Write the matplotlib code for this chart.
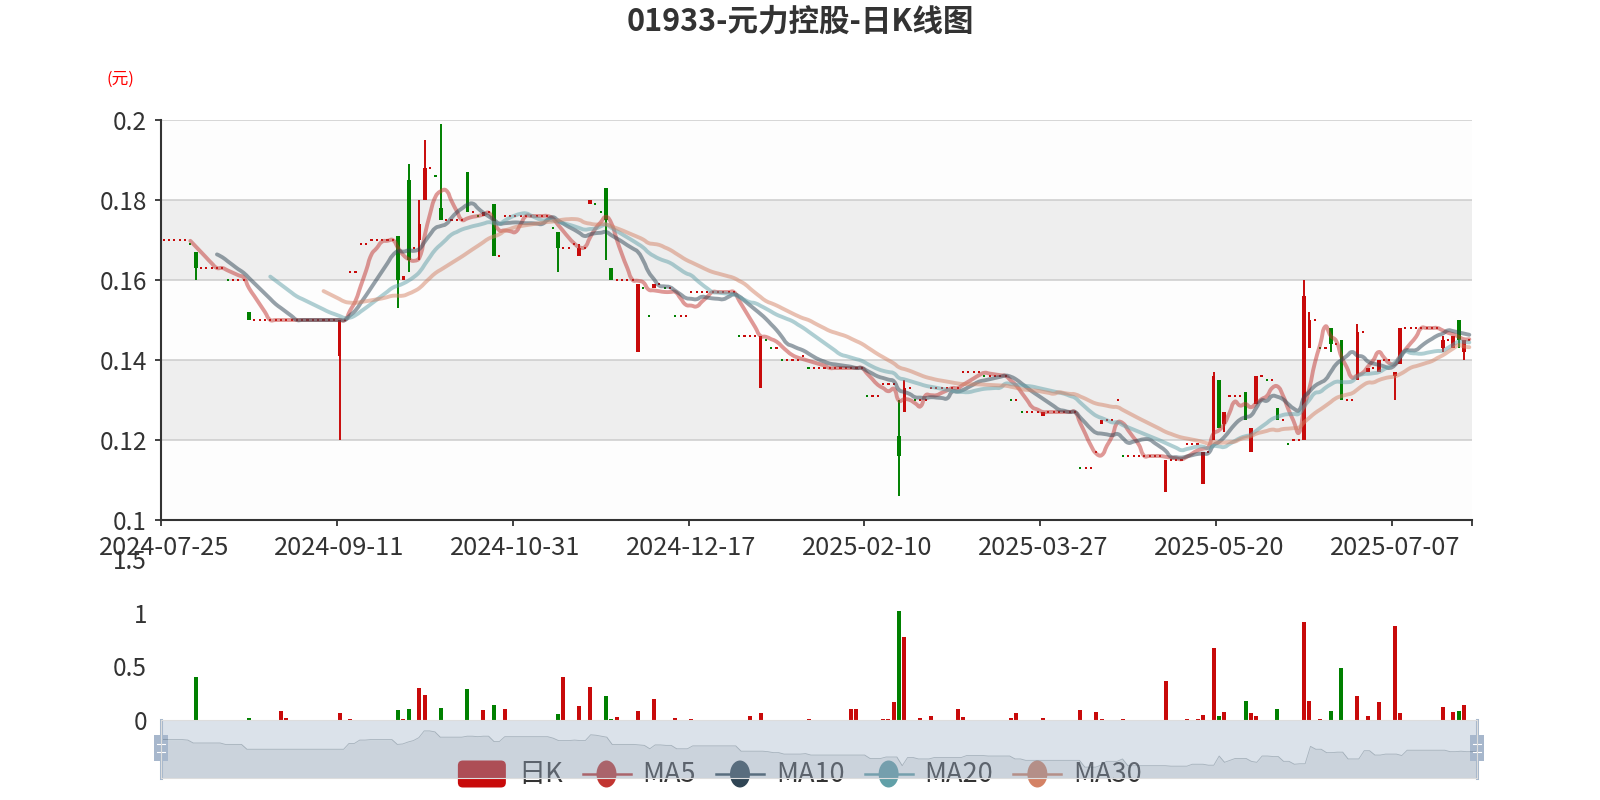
import numpy as np
import pandas as pd
import matplotlib
matplotlib.use("Agg")
import matplotlib.pyplot as plt
from matplotlib.path import Path
from matplotlib.patches import PathPatch, FancyBboxPatch, Ellipse, Rectangle
from matplotlib.lines import Line2D
from matplotlib.ticker import FixedLocator, NullFormatter

plt.rcParams["font.family"] = ["Noto Sans CJK SC", "DejaVu Sans"]

TITLE = "01933-元力控股-日K线图"
Y_NAME = "(元)"
tick_labels = ["2024-07-25", "2024-09-11", "2024-10-31", "2024-12-17",
               "2025-02-10", "2025-03-27", "2025-05-20", "2025-07-07"]
LABEL_STEP = 33   # one date label every 33 trading days

# daily prices, one value per trading day (index 0 = 2024-07-25)
opens = [
    0.170, 0.170, 0.170, 0.170, 0.170, 0.169, 0.167, 0.163, 0.163, 0.163,
    0.163, 0.163, 0.160, 0.160, 0.160, 0.160, 0.152, 0.150, 0.150, 0.150,
    0.150, 0.150, 0.150, 0.150, 0.150, 0.150, 0.150, 0.150, 0.150, 0.150,
    0.150, 0.150, 0.150, 0.141, 0.150, 0.162, 0.162, 0.169, 0.169, 0.170,
    0.170, 0.170, 0.170, 0.170, 0.171, 0.160, 0.185, 0.168, 0.170, 0.180,
    0.188, 0.186, 0.178, 0.175, 0.175, 0.175, 0.175, 0.187, 0.177, 0.176,
    0.176, 0.177, 0.179, 0.166, 0.176, 0.176, 0.176, 0.176, 0.176, 0.176,
    0.176, 0.176, 0.176, 0.173, 0.172, 0.168, 0.168, 0.169, 0.166, 0.168,
    0.179, 0.179, 0.177, 0.183, 0.163, 0.160, 0.160, 0.160, 0.160, 0.142,
    0.158, 0.151, 0.158, 0.159, 0.158, 0.158, 0.151, 0.151, 0.151, 0.157,
    0.157, 0.157, 0.157, 0.157, 0.157, 0.157, 0.157, 0.157, 0.146, 0.146,
    0.146, 0.146, 0.133, 0.145, 0.143, 0.143, 0.140, 0.140, 0.140, 0.140,
    0.141, 0.138, 0.138, 0.138, 0.138, 0.138, 0.138, 0.138, 0.138, 0.138,
    0.138, 0.138, 0.131, 0.131, 0.131, 0.134, 0.134, 0.134, 0.121, 0.127,
    0.133, 0.130, 0.130, 0.130, 0.133, 0.133, 0.133, 0.133, 0.133, 0.133,
    0.137, 0.137, 0.137, 0.137, 0.136, 0.136, 0.136, 0.136, 0.136, 0.130,
    0.130, 0.127, 0.127, 0.127, 0.127, 0.126, 0.127, 0.127, 0.127, 0.127,
    0.127, 0.127, 0.113, 0.113, 0.113, 0.117, 0.124, 0.125, 0.125, 0.130,
    0.116, 0.116, 0.116, 0.116, 0.116, 0.116, 0.116, 0.116, 0.107, 0.115,
    0.115, 0.115, 0.119, 0.119, 0.119, 0.109, 0.117, 0.120, 0.135, 0.124,
    0.131, 0.131, 0.131, 0.132, 0.117, 0.129, 0.136, 0.135, 0.135, 0.128,
    0.125, 0.119, 0.120, 0.120, 0.120, 0.143, 0.150, 0.143, 0.143, 0.148,
    0.144, 0.145, 0.130, 0.130, 0.135, 0.147, 0.137, 0.138, 0.137, 0.140,
    0.140, 0.136, 0.139, 0.148, 0.148, 0.148, 0.148, 0.148, 0.148, 0.148,
    0.143, 0.145, 0.143, 0.150, 0.142, 0.145,
]
highs = [
    0.170, 0.170, 0.170, 0.170, 0.170, 0.169, 0.167, 0.163, 0.163, 0.163,
    0.163, 0.163, 0.160, 0.160, 0.160, 0.160, 0.152, 0.150, 0.150, 0.150,
    0.150, 0.150, 0.150, 0.150, 0.150, 0.150, 0.150, 0.150, 0.150, 0.150,
    0.150, 0.150, 0.150, 0.150, 0.150, 0.162, 0.162, 0.169, 0.169, 0.170,
    0.170, 0.170, 0.170, 0.170, 0.171, 0.161, 0.189, 0.168, 0.180, 0.195,
    0.188, 0.186, 0.199, 0.175, 0.175, 0.175, 0.175, 0.187, 0.177, 0.176,
    0.177, 0.177, 0.179, 0.166, 0.176, 0.176, 0.176, 0.176, 0.176, 0.176,
    0.176, 0.176, 0.176, 0.173, 0.172, 0.168, 0.168, 0.169, 0.169, 0.168,
    0.180, 0.179, 0.177, 0.183, 0.163, 0.160, 0.160, 0.160, 0.160, 0.159,
    0.158, 0.151, 0.159, 0.159, 0.158, 0.158, 0.151, 0.151, 0.151, 0.157,
    0.157, 0.157, 0.157, 0.157, 0.157, 0.157, 0.157, 0.157, 0.146, 0.146,
    0.146, 0.146, 0.146, 0.145, 0.143, 0.143, 0.140, 0.140, 0.140, 0.140,
    0.141, 0.138, 0.138, 0.138, 0.138, 0.138, 0.138, 0.138, 0.138, 0.138,
    0.138, 0.138, 0.131, 0.131, 0.131, 0.134, 0.134, 0.134, 0.130, 0.135,
    0.133, 0.130, 0.130, 0.130, 0.133, 0.133, 0.133, 0.133, 0.133, 0.133,
    0.137, 0.137, 0.137, 0.137, 0.136, 0.136, 0.136, 0.136, 0.136, 0.130,
    0.130, 0.127, 0.127, 0.127, 0.127, 0.127, 0.127, 0.127, 0.127, 0.127,
    0.127, 0.127, 0.113, 0.113, 0.113, 0.117, 0.125, 0.125, 0.125, 0.130,
    0.116, 0.116, 0.116, 0.116, 0.116, 0.116, 0.116, 0.116, 0.115, 0.115,
    0.115, 0.115, 0.119, 0.119, 0.119, 0.117, 0.117, 0.137, 0.135, 0.127,
    0.131, 0.131, 0.131, 0.132, 0.123, 0.136, 0.136, 0.135, 0.135, 0.128,
    0.125, 0.119, 0.120, 0.120, 0.160, 0.152, 0.150, 0.143, 0.143, 0.148,
    0.144, 0.145, 0.130, 0.130, 0.149, 0.147, 0.138, 0.138, 0.140, 0.140,
    0.140, 0.137, 0.148, 0.148, 0.148, 0.148, 0.148, 0.148, 0.148, 0.148,
    0.146, 0.145, 0.146, 0.150, 0.145, 0.145,
]
lows = [
    0.170, 0.170, 0.170, 0.170, 0.170, 0.169, 0.160, 0.163, 0.163, 0.163,
    0.163, 0.163, 0.160, 0.160, 0.160, 0.160, 0.150, 0.150, 0.150, 0.150,
    0.150, 0.150, 0.150, 0.150, 0.150, 0.150, 0.150, 0.150, 0.150, 0.150,
    0.150, 0.150, 0.150, 0.120, 0.150, 0.162, 0.162, 0.169, 0.169, 0.170,
    0.170, 0.170, 0.170, 0.170, 0.153, 0.160, 0.162, 0.168, 0.165, 0.180,
    0.188, 0.186, 0.175, 0.175, 0.175, 0.175, 0.175, 0.177, 0.177, 0.176,
    0.176, 0.177, 0.166, 0.166, 0.176, 0.176, 0.176, 0.176, 0.176, 0.176,
    0.176, 0.176, 0.176, 0.173, 0.162, 0.168, 0.168, 0.169, 0.166, 0.168,
    0.179, 0.179, 0.177, 0.165, 0.160, 0.160, 0.160, 0.160, 0.160, 0.142,
    0.158, 0.151, 0.158, 0.159, 0.158, 0.158, 0.151, 0.151, 0.151, 0.157,
    0.157, 0.157, 0.157, 0.157, 0.157, 0.157, 0.157, 0.157, 0.146, 0.146,
    0.146, 0.146, 0.133, 0.145, 0.143, 0.143, 0.140, 0.140, 0.140, 0.140,
    0.141, 0.138, 0.138, 0.138, 0.138, 0.138, 0.138, 0.138, 0.138, 0.138,
    0.138, 0.138, 0.131, 0.131, 0.131, 0.134, 0.134, 0.134, 0.106, 0.127,
    0.133, 0.130, 0.130, 0.130, 0.133, 0.133, 0.133, 0.133, 0.133, 0.133,
    0.137, 0.137, 0.137, 0.137, 0.136, 0.136, 0.136, 0.136, 0.136, 0.130,
    0.130, 0.127, 0.127, 0.127, 0.127, 0.126, 0.127, 0.127, 0.127, 0.127,
    0.127, 0.127, 0.113, 0.113, 0.113, 0.117, 0.124, 0.125, 0.125, 0.130,
    0.116, 0.116, 0.116, 0.116, 0.116, 0.116, 0.116, 0.116, 0.107, 0.115,
    0.115, 0.115, 0.119, 0.119, 0.119, 0.109, 0.117, 0.120, 0.123, 0.122,
    0.131, 0.131, 0.131, 0.125, 0.117, 0.129, 0.136, 0.135, 0.135, 0.125,
    0.125, 0.119, 0.120, 0.120, 0.120, 0.143, 0.150, 0.143, 0.143, 0.142,
    0.144, 0.130, 0.130, 0.130, 0.135, 0.147, 0.137, 0.138, 0.137, 0.140,
    0.140, 0.130, 0.139, 0.148, 0.148, 0.148, 0.148, 0.148, 0.148, 0.148,
    0.142, 0.145, 0.143, 0.143, 0.140, 0.145,
]
closes = [
    0.170, 0.170, 0.170, 0.170, 0.170, 0.169, 0.163, 0.163, 0.163, 0.163,
    0.163, 0.163, 0.160, 0.160, 0.160, 0.160, 0.150, 0.150, 0.150, 0.150,
    0.150, 0.150, 0.150, 0.150, 0.150, 0.150, 0.150, 0.150, 0.150, 0.150,
    0.150, 0.150, 0.150, 0.150, 0.150, 0.162, 0.162, 0.169, 0.169, 0.170,
    0.170, 0.170, 0.170, 0.170, 0.160, 0.161, 0.165, 0.168, 0.174, 0.188,
    0.188, 0.186, 0.175, 0.175, 0.175, 0.175, 0.175, 0.177, 0.177, 0.176,
    0.177, 0.177, 0.166, 0.166, 0.176, 0.176, 0.176, 0.176, 0.176, 0.176,
    0.176, 0.176, 0.176, 0.173, 0.168, 0.168, 0.168, 0.169, 0.168, 0.168,
    0.180, 0.179, 0.177, 0.175, 0.160, 0.160, 0.160, 0.160, 0.160, 0.159,
    0.158, 0.151, 0.159, 0.159, 0.158, 0.158, 0.151, 0.151, 0.151, 0.157,
    0.157, 0.157, 0.157, 0.157, 0.157, 0.157, 0.157, 0.157, 0.146, 0.146,
    0.146, 0.146, 0.146, 0.145, 0.143, 0.143, 0.140, 0.140, 0.140, 0.140,
    0.141, 0.138, 0.138, 0.138, 0.138, 0.138, 0.138, 0.138, 0.138, 0.138,
    0.138, 0.138, 0.131, 0.131, 0.131, 0.134, 0.134, 0.134, 0.116, 0.133,
    0.133, 0.130, 0.130, 0.130, 0.133, 0.133, 0.133, 0.133, 0.133, 0.133,
    0.137, 0.137, 0.137, 0.137, 0.136, 0.136, 0.136, 0.136, 0.136, 0.130,
    0.130, 0.127, 0.127, 0.127, 0.127, 0.127, 0.127, 0.127, 0.127, 0.127,
    0.127, 0.127, 0.113, 0.113, 0.113, 0.117, 0.125, 0.125, 0.125, 0.130,
    0.116, 0.116, 0.116, 0.116, 0.116, 0.116, 0.116, 0.116, 0.115, 0.115,
    0.115, 0.115, 0.119, 0.119, 0.119, 0.117, 0.117, 0.136, 0.123, 0.127,
    0.131, 0.131, 0.131, 0.125, 0.123, 0.136, 0.136, 0.135, 0.135, 0.125,
    0.125, 0.119, 0.120, 0.120, 0.156, 0.150, 0.150, 0.143, 0.143, 0.144,
    0.144, 0.130, 0.130, 0.130, 0.147, 0.147, 0.138, 0.138, 0.140, 0.140,
    0.140, 0.137, 0.148, 0.148, 0.148, 0.148, 0.148, 0.148, 0.148, 0.148,
    0.145, 0.145, 0.146, 0.145, 0.145, 0.145,
]
volumes = [
    0, 0, 0, 0, 0, 0, 0.40, 0, 0, 0,
    0, 0, 0, 0, 0, 0, 0.022, 0, 0, 0,
    0, 0, 0.081, 0.022, 0, 0, 0, 0, 0, 0,
    0, 0, 0, 0.0625, 0, 0.01, 0, 0, 0, 0,
    0, 0, 0, 0, 0.094, 0.01, 0.103, 0, 0.30, 0.23,
    0, 0, 0.11, 0, 0, 0, 0, 0.29, 0, 0,
    0.094, 0, 0.14, 0, 0.103, 0, 0, 0, 0, 0,
    0, 0, 0, 0, 0.053, 0.40, 0, 0, 0.13, 0,
    0.31, 0, 0, 0.22, 0.01, 0.028, 0, 0, 0, 0.081,
    0, 0, 0.20, 0, 0, 0, 0.019, 0, 0, 0.01,
    0, 0, 0, 0, 0, 0, 0, 0, 0, 0,
    0.04, 0, 0.0625, 0, 0, 0, 0, 0, 0, 0,
    0, 0.01, 0, 0, 0, 0, 0, 0, 0, 0.103,
    0.103, 0, 0, 0, 0, 0.01, 0.01, 0.17, 1.02, 0.77,
    0, 0, 0.019, 0, 0.04, 0, 0, 0, 0, 0.103,
    0.028, 0, 0, 0, 0, 0, 0, 0, 0, 0.019,
    0.0625, 0, 0, 0, 0, 0.019, 0, 0, 0, 0,
    0, 0, 0.094, 0, 0, 0.072, 0.01, 0, 0, 0,
    0.01, 0, 0, 0, 0, 0, 0, 0, 0.36, 0,
    0, 0, 0.01, 0, 0.01, 0.05, 0, 0.67, 0.04, 0.072,
    0, 0, 0, 0.18, 0.0625, 0.04, 0, 0, 0, 0.103,
    0, 0, 0, 0, 0.91, 0.18, 0, 0.01, 0, 0.081,
    0, 0.48, 0, 0, 0.22, 0, 0.04, 0, 0.17, 0,
    0, 0.88, 0.0625, 0, 0, 0, 0, 0, 0, 0,
    0.12, 0, 0.072, 0.081, 0.14, 0,
]

ma_periods = [5, 10, 20, 30]
ma_names = ["MA5", "MA10", "MA20", "MA30"]
ma_colors = ["#c23531", "#2f4554", "#61a0a8", "#d48265"]
UP_COLOR = "#c80a0a"
DOWN_COLOR = "#008000"
TEXT_COLOR = "#333333"

W, H = 1600, 800
PLOT_L, PLOT_R, PLOT_T, PLOT_B = 161, 1472, 120, 520
VOL_T, VOL_B = 559, 720
ZOOM_L, ZOOM_R, ZOOM_T, ZOOM_B = 161, 1477, 720, 778


def smooth_path(xs, ys, sx, sy, smooth=0.5):
    """Bezier path through the points, same control-point rule as echarts smooth lines."""
    pts = np.column_stack([xs * sx, ys * sy])
    n = len(pts)
    cps = []
    for i in range(n):
        if i == 0 or i == n - 1:
            cps.append((pts[i], pts[i]))
            continue
        v = (pts[i + 1] - pts[i - 1]) * smooth
        d0 = np.hypot(*(pts[i] - pts[i - 1]))
        d1 = np.hypot(*(pts[i] - pts[i + 1]))
        s = d0 + d1
        if s:
            d0, d1 = d0 / s, d1 / s
        cps.append((pts[i] - v * d0, pts[i] + v * d1))
    verts = [pts[0]]
    codes = [Path.MOVETO]
    for i in range(n - 1):
        verts += [cps[i][1], cps[i + 1][0], pts[i + 1]]
        codes += [Path.CURVE4] * 3
    verts = np.array(verts) / np.array([sx, sy])
    return Path(verts, codes)


o = np.array(opens)
h = np.array(highs)
l = np.array(lows)
c = np.array(closes)
v = np.array(volumes)
n = len(c)
x = np.arange(n)

# echarts sign rule: body direction, or previous close when open == close
prev_close = np.r_[c[0], c[:-1]]
rising = np.where(c > o, True, np.where(c < o, False, c >= prev_close))
candle_colors = np.where(rising, UP_COLOR, DOWN_COLOR)
vol_colors = np.where(c >= o, UP_COLOR, DOWN_COLOR)

fig = plt.figure(figsize=(16, 8), dpi=100)

# ---- price panel ----
ax = fig.add_axes([PLOT_L / W, 1 - PLOT_B / H, (PLOT_R - PLOT_L) / W, (PLOT_B - PLOT_T) / H])
ax.set_xlim(-0.5, n - 0.5)
ax.set_ylim(0.1, 0.2)
yt = np.round(np.arange(0.1, 0.2001, 0.02), 2)
band_colors = ["#fdfdfd", "#eeeeee"]
for k in range(len(yt) - 1):
    ax.axhspan(yt[k], yt[k + 1], color=band_colors[k % 2], lw=0, zorder=0)
for y in yt[1:]:
    ax.axhline(y, color="#cccccc", lw=1.1, zorder=0.5)

wick = h > l
ax.vlines(x[wick], l[wick], h[wick], colors=candle_colors[wick], lw=1.4, zorder=2)
flat = o == c
body = ~flat
ax.bar(x[body], np.abs(c - o)[body], bottom=np.minimum(o, c)[body], width=0.7,
       color=candle_colors[body], lw=0, zorder=2)
ax.bar(x[flat], 0.0005, bottom=c[flat] - 0.00025, width=0.4,
       color=candle_colors[flat], lw=0, zorder=2)

sx = (PLOT_R - PLOT_L) / n
sy = (PLOT_B - PLOT_T) / 0.1
close_s = pd.Series(c)
for p, col in zip(ma_periods, ma_colors):
    ma = close_s.rolling(p).mean().to_numpy()
    idx = np.arange(p, n)   # echarts example leaves the first p days empty
    path = smooth_path(idx.astype(float), ma[p:], sx, sy)
    ax.add_patch(PathPatch(path, fill=False, ec=col, lw=2.8, alpha=0.5,
                           capstyle="round", joinstyle="round", zorder=3))

ax.set_yticks(yt)
ax.set_yticklabels([f"{t:g}" for t in yt])
ax.xaxis.set_major_locator(FixedLocator([i - 0.5 for i in range(0, n, LABEL_STEP)] + [n - 0.5]))
ax.xaxis.set_major_formatter(NullFormatter())
ax.xaxis.set_minor_locator(FixedLocator(list(range(0, n, LABEL_STEP))))
ax.set_xticklabels(tick_labels, minor=True)
ax.tick_params(axis="both", which="major", direction="out", length=4, width=1.3,
               color=TEXT_COLOR, labelcolor=TEXT_COLOR, labelsize=17.5)
ax.tick_params(axis="y", pad=6)
ax.tick_params(axis="x", which="minor", length=0, pad=11, labelsize=18.3, labelcolor=TEXT_COLOR)
for side in ("top", "right"):
    ax.spines[side].set_visible(False)
for side in ("left", "bottom"):
    ax.spines[side].set_color(TEXT_COLOR)
    ax.spines[side].set_linewidth(1.5)

# ---- volume panel ----
axv = fig.add_axes([PLOT_L / W, 1 - VOL_B / H, (PLOT_R - PLOT_L) / W, (VOL_B - VOL_T) / H])
axv.set_xlim(-0.5, n - 0.5)
axv.set_ylim(0, 1.5)
axv.bar(x, v, width=0.75, color=vol_colors, lw=0)
axv.set_yticks([0, 0.5, 1, 1.5])
axv.set_yticklabels(["0", "0.5", "1", "1.5"])
axv.set_xticks([])
axv.tick_params(axis="y", length=0, pad=10, labelsize=17.5, labelcolor=TEXT_COLOR)
for s in axv.spines.values():
    s.set_visible(False)
axv.patch.set_alpha(0)

# ---- title and axis name ----
fig.text(0.5, 1 - 22 / H, TITLE, ha="center", va="center", fontsize=22,
         fontweight="bold", color=TEXT_COLOR)
fig.text(120 / W, 1 - 79 / H, Y_NAME, ha="center", va="center", fontsize=12, color="red")

# ---- legend (sits underneath the zoom slider, like the original) ----
axl = fig.add_axes([0, 0, 1, 1], zorder=5)
axl.set_xlim(0, W)
axl.set_ylim(H, 0)
axl.axis("off")
fig.canvas.draw()
renderer = fig.canvas.get_renderer()
leg_labels = ["日K"] + ma_names
leg_colors = [UP_COLOR] + ma_colors
icon_w, icon_h, txt_gap, item_gap, leg_y = 48, 27, 12, 20, 774
texts = [axl.text(0, leg_y, s, fontsize=19.5, color=TEXT_COLOR, va="center", ha="left")
         for s in leg_labels]
tws = [t.get_window_extent(renderer).width for t in texts]
total = sum(icon_w + txt_gap + tw for tw in tws) + item_gap * (len(tws) - 1)
cx = W / 2 - total / 2
for k, (t, tw, col) in enumerate(zip(texts, tws, leg_colors)):
    if k == 0:
        axl.add_patch(FancyBboxPatch((cx, leg_y - icon_h / 2), icon_w, icon_h,
                                     boxstyle="round,pad=0,rounding_size=5",
                                     fc=col, ec="none"))
    else:
        axl.add_line(Line2D([cx, cx + icon_w], [leg_y, leg_y], color=col, lw=1.8))
        axl.add_patch(Ellipse((cx + icon_w / 2, leg_y), 20, icon_h, fc=col, ec="none"))
    t.set_x(cx + icon_w + txt_gap)
    cx += icon_w + txt_gap + tw + item_gap

# ---- data zoom slider ----
axs = fig.add_axes([ZOOM_L / W, 1 - ZOOM_B / H, (ZOOM_R - ZOOM_L) / W, (ZOOM_B - ZOOM_T) / H],
                   zorder=10)
axs.set_facecolor((167 / 255, 183 / 255, 204 / 255, 0.4))
lo, hi = c.min(), c.max()
pad = (hi - lo) * 0.3
axs.set_xlim(0, n - 1)
axs.set_ylim(lo - pad, hi + pad)
axs.fill_between(x, lo - pad, c, color="#2f4554", alpha=0.09, lw=0)
axs.plot(x, c, color="#2f4554", alpha=0.3, lw=0.6)
axs.set_xticks([])
axs.set_yticks([])
for s in axs.spines.values():
    s.set_color("#dddddd")
    s.set_linewidth(0.8)
for xa in (0, 1):
    axs.add_line(Line2D([xa, xa], [0, 1], transform=axs.transAxes, color="#a7b7cc",
                        lw=2.2, clip_on=False))
    hw = 7 / (ZOOM_R - ZOOM_L)
    axs.add_patch(Rectangle((xa - hw, 0.3), 2 * hw, 0.44, transform=axs.transAxes,
                            fc="#a7b7cc", ec="none", clip_on=False))
    for yy in (0.45, 0.59):
        axs.add_line(Line2D([xa - hw * 0.6, xa + hw * 0.6], [yy, yy], transform=axs.transAxes,
                            color="white", lw=0.8, clip_on=False))

fig.savefig("out.png", dpi=100)
